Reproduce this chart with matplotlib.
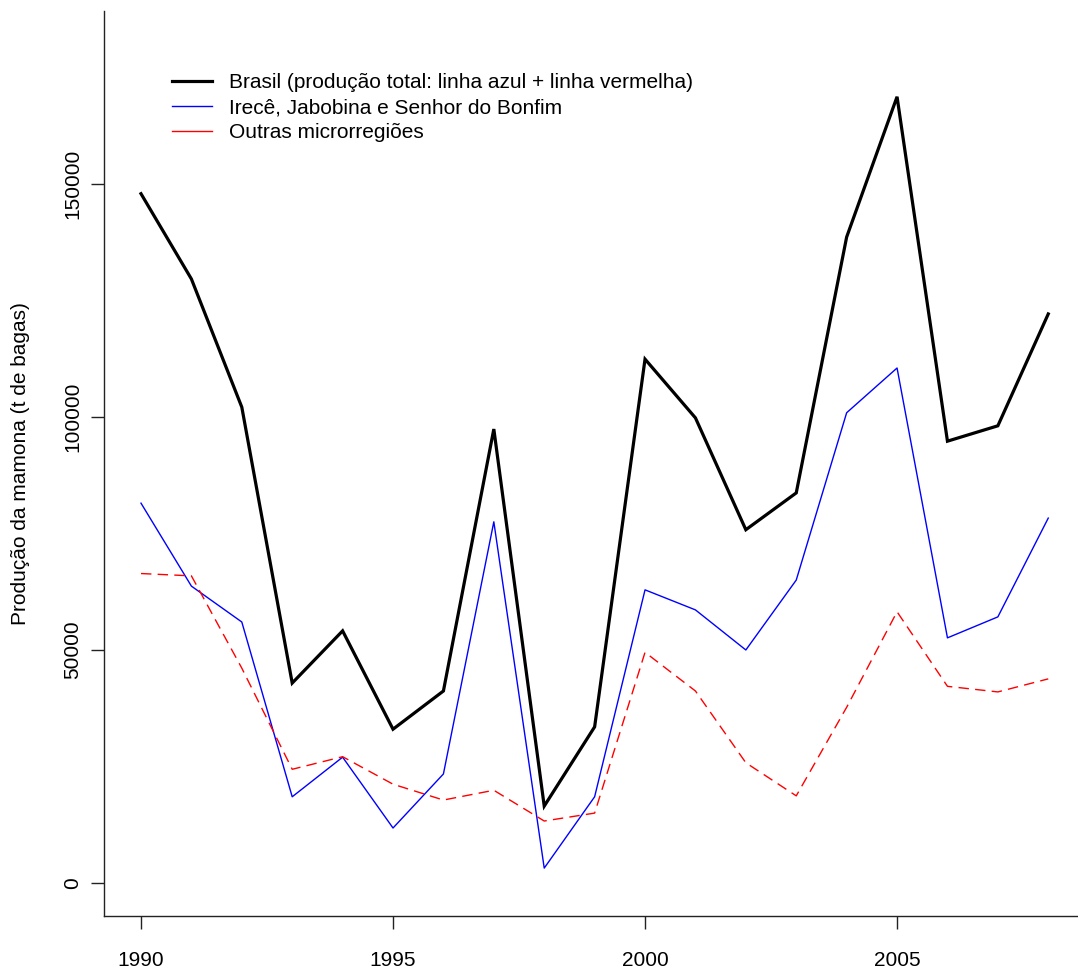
import matplotlib
matplotlib.use("Agg")
import matplotlib.pyplot as plt
from matplotlib.lines import Line2D

plt.rcParams['font.family'] = ['Liberation Sans', 'DejaVu Sans']

years = list(range(1990, 2009))
brasil = [147900, 129600, 102100, 42900, 54100, 33000, 41200, 97400, 16500, 33500,
          112400, 99800, 75800, 83700, 138600, 168700, 94800, 98100, 122100]
irece = [81500, 63700, 56000, 18500, 27000, 11800, 23400, 77500, 3200, 18500,
         62900, 58600, 50000, 65000, 100900, 110500, 52600, 57100, 78300]
outras = [66400, 65900, 46100, 24400, 27100, 21200, 17800, 19900, 13300, 15000,
          49500, 41200, 25800, 18700, 37700, 58200, 42200, 41000, 43800]

legend_labels = ["Brasil (produção total: linha azul + linha vermelha)",
                 "Irecê, Jabobina e Senhor do Bonfim",
                 "Outras microrregiões"]
xticks = [1990, 1995, 2000, 2005]
yticks = [0, 50000, 100000, 150000]

W, H = 1078, 972
fig = plt.figure(figsize=(W / 100, H / 100), dpi=100)
ax = fig.add_axes([104 / W, 1 - 916 / H, (W - 104) / W, (916 - 11) / H])

ax.plot(years, brasil, color='black', lw=2.3, solid_joinstyle='miter')
ax.plot(years, irece, color='#0000ff', lw=1.0)
ax.plot(years, outras, color='#ff0000', lw=1.0, linestyle=(0, (7.5, 4.5)))

ax.set_xlim(1989.266, 2008.59)
ax.set_ylim(-7080, 187100)

for side in ('top', 'right'):
    ax.spines[side].set_visible(False)
for side in ('left', 'bottom'):
    ax.spines[side].set_linewidth(1.0)
    ax.spines[side].set_color('#222222')

ax.set_xticks(xticks)
ax.set_xticklabels([str(v) for v in xticks])
ax.set_yticks(yticks)
ax.set_yticklabels([str(v) for v in yticks], rotation=90, va='center')
ax.tick_params(axis='both', direction='out', length=9.5, width=1.0,
               color='#222222', labelsize=15)
ax.tick_params(axis='x', pad=16)
ax.tick_params(axis='y', pad=6)

ax.set_ylabel("Produção da mamona (t de bagas)", fontsize=15, labelpad=24)

handles = [Line2D([], [], color='black', lw=2.3),
           Line2D([], [], color='#0000ff', lw=1.0),
           Line2D([], [], color='#ff0000', lw=1.0)]
fig.legend(handles, legend_labels, loc='upper left',
           bbox_to_anchor=(172 / W, 1 - 73 / H), frameon=False, fontsize=15,
           handlelength=1.9, handletextpad=0.85, labelspacing=0.3,
           borderpad=0, borderaxespad=0)

fig.savefig("out.png", dpi=100, facecolor='white')
